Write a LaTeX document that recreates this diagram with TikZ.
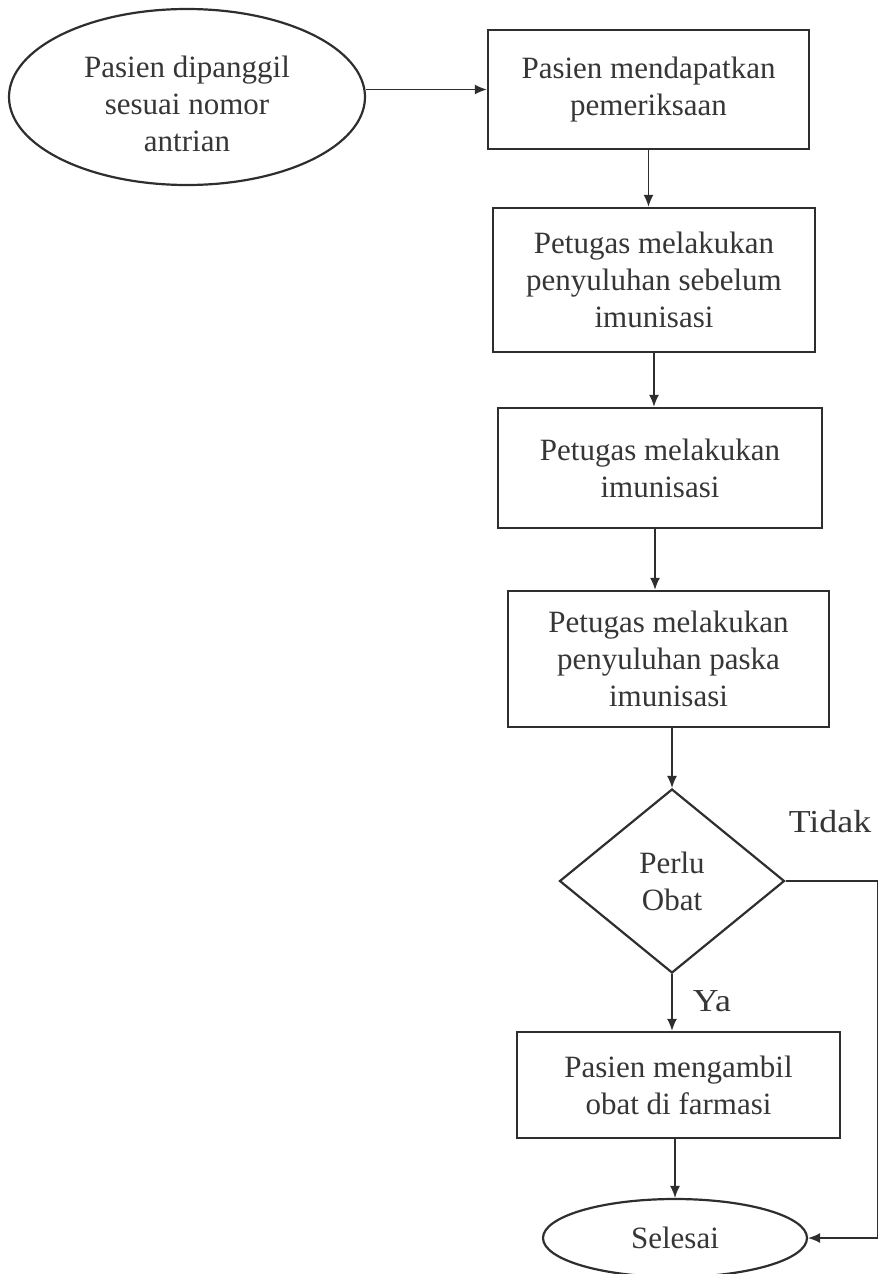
\documentclass[tikz,border=0pt]{standalone}
\usepackage{fontspec}
\setmainfont{Liberation Serif}
\newfontfamily\lblfont[FakeStretch=1.12]{Liberation Serif}
\usetikzlibrary{shapes.geometric,arrows.meta}
\definecolor{inkline}{HTML}{2E2E2E}
\definecolor{inktext}{HTML}{363636}
\begin{document}
\begin{tikzpicture}[x=0.5pt,y=-0.5pt,
  every node/.style={text=inktext,font=\fontsize{15.5}{18.5}\selectfont,align=center,inner sep=0pt},
  procbox/.style={draw=inkline,line width=1.2pt,rectangle},
  terminal/.style={draw=inkline,line width=1.1pt,ellipse},
  decision/.style={draw=inkline,line width=1.1pt,diamond},
  arr/.style={draw=inkline,line width=0.7pt,-{Latex[length=6pt,width=5pt]}},
  conn/.style={draw=inkline,line width=0.7pt},
  branch/.style={font=\lblfont\fontsize{16}{18}\selectfont}]
\useasboundingbox (0,0) rectangle (879,1274);

% start terminal (its text sits a little below the centre)
\node[terminal,minimum width=178pt,minimum height=88pt] (start) at (187,97) {};
\node (starttext) at (187,104) {Pasien dipanggil\\sesuai nomor\\antrian};

% process steps
\node[procbox,minimum width=160.5pt,minimum height=59.5pt] (b1) at (648.5,89.5)
  {Pasien mendapatkan\\pemeriksaan};
\node[procbox,minimum width=161pt,minimum height=72pt] (b2) at (654,280)
  {Petugas melakukan\\penyuluhan sebelum\\imunisasi};
\node[procbox,minimum width=162pt,minimum height=60pt] (b3) at (660,468)
  {Petugas melakukan\\imunisasi};
\node[procbox,minimum width=160.5pt,minimum height=68pt] (b4) at (668.5,659)
  {Petugas melakukan\\penyuluhan paska\\imunisasi};

% decision
\node[decision,minimum width=112.5pt,minimum height=92pt] (dia) at (672,881)
  {Perlu\\Obat};
\node[branch] (tidak) at (830,822) {Tidak};
\node[branch] (ya) at (712,1001) {Ya};

% final steps
\node[procbox,minimum width=161.5pt,minimum height=53pt] (b5) at (678.5,1085)
  {Pasien mengambil\\obat di farmasi};
\node[terminal,minimum width=132pt,minimum height=39pt] (end) at (675,1238)
  {Selesai};

% connectors
\draw[arr] (start.east |- b1.west) -- (b1.west);
\draw[arr] (b1.south) -- (b1.south |- b2.north);
\draw[arr] (b2.south) -- (b2.south |- b3.north);
\draw[arr] ([xshift=-2.5pt]b3.south) -- ([xshift=-2.5pt]b3.south |- b4.north);
\draw[arr] (b4.south -| dia.north) -- (dia.north);
\draw[arr] (dia.south) -- (dia.south |- b5.north);
\draw[arr] (b5.south -| end.north) -- (end.north);
\coordinate (rt) at (877.5,881);
\draw[conn] (dia.east) -- (rt);
\draw[arr] (rt) |- (end.east);
\end{tikzpicture}
\end{document}
